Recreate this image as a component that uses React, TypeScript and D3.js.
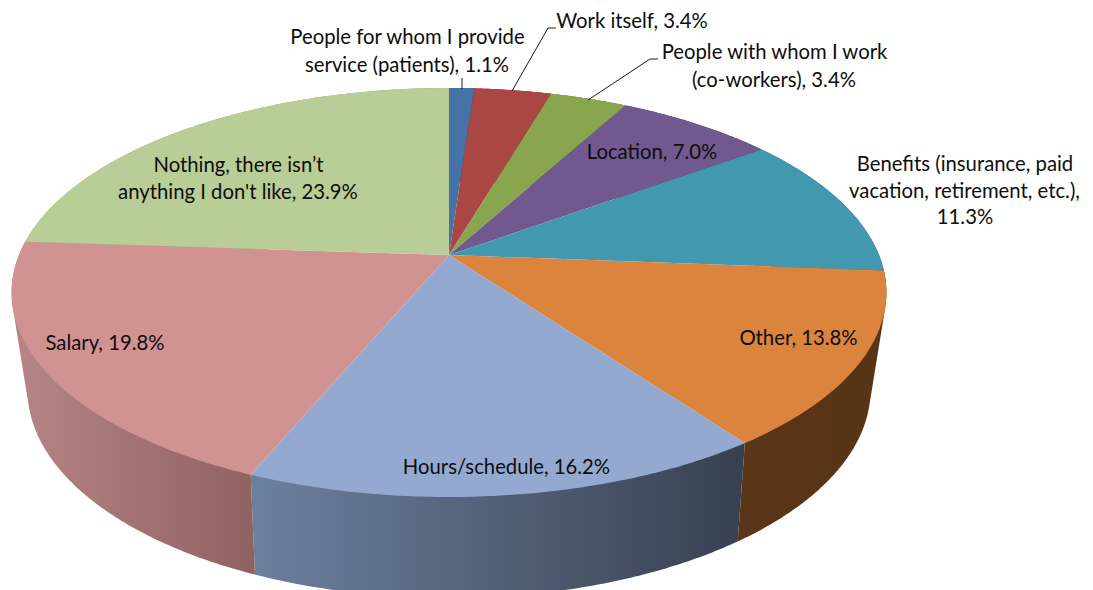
import React from 'react';
import * as d3 from 'd3';

const WIDTH = 1093;
const HEIGHT = 590;

const categories = [
  'People for whom I provide service (patients)',
  'Work itself',
  'People with whom I work (co-workers)',
  'Location',
  'Benefits (insurance, paid vacation, retirement, etc.)',
  'Other',
  'Hours/schedule',
  'Salary',
  'Nothing, there isn’t anything I don\'t like',
];
const values = [1.1, 3.4, 3.4, 7.0, 11.3, 13.8, 16.2, 19.8, 23.9];

const topColors = ['#4573a7', '#aa4644', '#89a54e', '#71588f', '#4298af', '#db843d', '#93a9cf', '#d19392', '#b9cd96'];
const wallFrom = ['#2e4d70', '#722f2e', '#5c6e34', '#4c3b60', '#2c6675', '#5a3518', '#6c809f', '#b78686', '#8a9a70'];
const wallTo = ['#2e4d70', '#722f2e', '#5c6e34', '#4c3b60', '#2c6675', '#583417', '#37404f', '#8f6160', '#8a9a70'];

// label text lines, [x (middle), baseline y]
const labelLines: [string, number, number][] = [
  ['People for whom I provide', 407.5, 44],
  ['service (patients), 1.1%', 407, 72],
  ['Work itself, 3.4%', 632, 28],
  ['People with whom I work', 774.5, 59],
  ['(co-workers), 3.4%', 774, 87],
  ['Location, 7.0%', 652, 159],
  ['Benefits (insurance, paid', 965, 171],
  ['vacation, retirement, etc.),', 964.5, 198],
  ['11.3%', 965, 224],
  ['Other, 13.8%', 798.5, 345],
  ['Hours/schedule, 16.2%', 506.5, 474],
  ['Salary, 19.8%', 105, 350],
  ['Nothing, there isn’t', 238.5, 172],
  ["anything I don't like, 23.9%", 238, 199],
];

const leaders = [
  [[462, 78], [462, 89]],
  [[556, 28], [548, 28], [512, 91]],
  [[658, 59], [650, 59], [588, 100]],
];

// ── Perspective disc: circle angle -> screen ─────────────────────────────
const project = (cx: number, cy: number, a: number, b: number, k: number) => (t: number): [number, number] => {
  const X = Math.sin(t);
  const Y = Math.cos(t);
  const w = 1 + k * Y;
  return [cx + (a * X) / w, cy - (b * Y) / w];
};
const topDisc = project(449, 255, 430, 197.6, 0.1834);
const lowDisc = project(449, 348, 413, 200, 0.2);

const arcPoints = (disc: (t: number) => [number, number], t0: number, t1: number) => {
  const n = Math.max(2, Math.ceil((t1 - t0) / 0.01));
  return d3.range(n + 1).map(i => disc(t0 + ((t1 - t0) * i) / n));
};

const line = d3.line();

export default function App() {
  const slices = d3.pie<number>().sort(null).startAngle(0).endAngle(2 * Math.PI)(values);

  // hull of both arcs gives the straight silhouette edges; the inner side ends up under the top faces
  const walls = slices.map((s, i) => {
    const pts = [...arcPoints(topDisc, s.startAngle, s.endAngle), ...arcPoints(lowDisc, s.startAngle, s.endAngle)];
    const hull = d3.polygonHull(pts) as [number, number][];
    const xr = d3.extent(pts, p => p[0]) as [number, number];
    return { i, d: line(hull) + 'Z', xr };
  });

  const faces = slices.map((s, i) => {
    const pts: [number, number][] = [[449, 255], ...arcPoints(topDisc, s.startAngle, s.endAngle)];
    return { i, d: line(pts) + 'Z' };
  });

  return (
    <svg
      width={WIDTH}
      height={HEIGHT}
      style={{ position: 'absolute', left: 0, top: 0, display: 'block', background: '#fff' }}
      role="img"
      aria-label={categories.join('; ')}
    >
      <defs>
        {walls.map(w => (
          <linearGradient
            key={w.i}
            id={`wall${w.i}`}
            gradientUnits="userSpaceOnUse"
            x1={w.xr[0]}
            x2={w.xr[1]}
            y1={0}
            y2={0}
          >
            <stop offset="0" stopColor={wallFrom[w.i]} />
            <stop offset="1" stopColor={wallTo[w.i]} />
          </linearGradient>
        ))}
      </defs>

      {/* back to front: only the walls facing the viewer stay visible */}
      {walls.map(w => (
        <path key={w.i} d={w.d} fill={`url(#wall${w.i})`} />
      ))}
      {faces.map(f => (
        <path key={f.i} d={f.d} fill={topColors[f.i]} />
      ))}

      {leaders.map((l, i) => (
        <path key={i} d={line(l as [number, number][]) as string} fill="none" stroke="#1a1a1a" strokeWidth={1} />
      ))}

      <g fontFamily="Lato, 'Open Sans', sans-serif" fontSize={20.3} fill="#0d0d0d" textAnchor="middle">
        {labelLines.map(([t, x, y]) => (
          <text key={t} x={x} y={y}>
            {t}
          </text>
        ))}
      </g>
    </svg>
  );
}
